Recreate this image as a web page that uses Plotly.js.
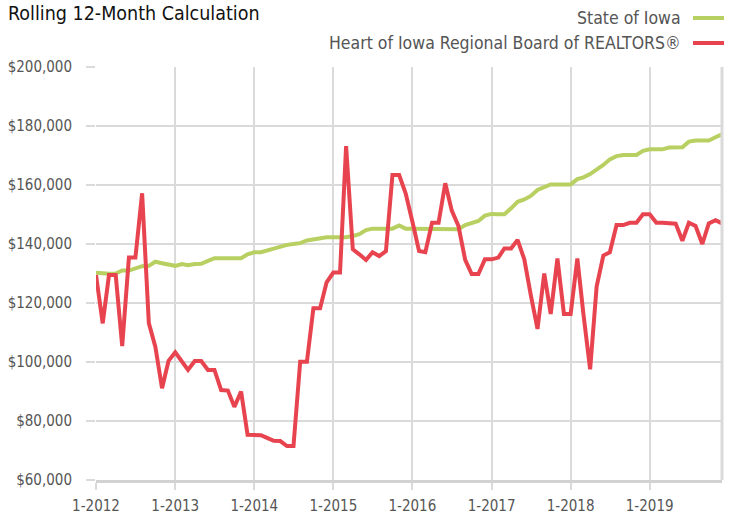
<!DOCTYPE html>
<html>
<head>
<meta charset="utf-8">
<script src="https://cdn.plot.ly/plotly-3.0.1.min.js"></script>
<style>html,body{margin:0;padding:0;background:#fff;}#chart{width:729px;height:515px;}</style>
</head>
<body>
<div id="chart"></div>
<script>
// Months Jan 2012 .. Dec 2019
const startYear = 2012, endYear = 2019;
const months = [];
for (let y = startYear; y <= endYear; y++) {
  for (let m = 1; m <= 12; m++) months.push(y + '-' + String(m).padStart(2, '0') + '-01');
}

const tickDates = ['2012-01-01','2013-01-01','2014-01-01','2015-01-01','2016-01-01','2017-01-01','2018-01-01','2019-01-01'];
const tickLabels = ['1-2012','1-2013','1-2014','1-2015','1-2016','1-2017','1-2018','1-2019'];

const seriesNames = ['State of Iowa', 'Heart of Iowa Regional Board of REALTORS®'];

const stateOfIowa = [
  130300,130000,129900,130000,131000,131000,131800,132500,132600,134000,133500,133100,
  132600,133200,132800,133200,133300,134300,135200,135200,135200,135200,135200,136500,
  137200,137200,137800,138300,139200,139700,140000,140300,141200,141600,142200,142300,
  142300,142300,142300,142700,143300,144700,145200,145200,145200,145200,146300,145200,
  145200,145200,145200,145200,145000,145000,145000,145000,146400,147000,147800,149600,
  150200,150100,150100,152100,154300,155100,156300,158300,159200,160200,160200,160200,
  160200,162000,162600,163700,165100,166800,168700,169800,170200,170200,170200,171600,
  172100,172100,172100,172700,172700,172800,174700,175100,175100,175100,176200,177200
];

const heartOfIowa = [
  129500,113100,129500,129500,105400,135400,135400,157200,113200,105200,91100,100400,
  103300,100300,97300,100300,100300,97300,97300,90500,90300,84800,90000,75300,
  75300,75200,74300,73300,73200,71500,71500,100100,100100,118200,118200,127000,
  130300,130300,173200,138200,136500,134600,137200,135900,137600,163400,163400,157200,
  147600,137600,137200,147200,147200,160600,151300,146100,134600,129800,129800,134800,
  134800,135400,138500,138500,141400,134800,122700,111200,130000,116300,135100,116300,
  116300,135100,116300,97500,125600,136100,137200,146400,146400,147200,147200,150100,
  150100,147200,147200,147200,146900,141100,147200,146100,140000,147000,148100,147000
];

const green = '#b7d061';
const red = '#e8444f';
const grid = '#dadada';
const font = '"DejaVu Sans Condensed", "Liberation Sans", sans-serif';

const traces = [
  {x: months, y: stateOfIowa, name: seriesNames[0], type: 'scatter', mode: 'lines',
   line: {color: green, width: 4}, hoverinfo: 'skip'},
  {x: months, y: heartOfIowa, name: seriesNames[1], type: 'scatter', mode: 'lines',
   line: {color: red, width: 4}, hoverinfo: 'skip'}
];

const layout = {
  width: 729, height: 515,
  margin: {l: 96, r: 7, t: 67, b: 35},
  paper_bgcolor: '#fff', plot_bgcolor: '#fff',
  showlegend: false,
  font: {family: font, color: '#555'},
  title: {text: 'Rolling 12-Month Calculation', xref: 'container', yref: 'container',
          x: 0.011, xanchor: 'left', y: 1 - 13/515, yanchor: 'middle',
          font: {family: font, size: 19.5, color: '#111'}},
  xaxis: {
    type: 'date', range: [months[0], months[months.length - 1]],
    tickvals: tickDates, ticktext: tickLabels,
    showgrid: true, gridcolor: grid, gridwidth: 2,
    ticks: 'outside', ticklen: 7, tickcolor: grid, tickwidth: 2,
    showline: true, linecolor: '#d2d2d2', linewidth: 3,
    ticklabelstandoff: 3,
    tickfont: {family: font, size: 15, color: '#555'},
    zeroline: false, fixedrange: true
  },
  yaxis: {
    range: [60000, 200000], dtick: 20000, tick0: 60000,
    tickprefix: '$', tickformat: ',d',
    showgrid: true, gridcolor: grid, gridwidth: 2,
    ticks: 'outside', ticklen: 9, tickcolor: grid, tickwidth: 2,
    showline: false, ticklabelstandoff: 11,
    tickfont: {family: font, size: 15, color: '#555'},
    zeroline: false, fixedrange: true
  },
  annotations: [
    {text: seriesNames[0], xref: 'paper', yref: 'paper', x: 0.9377, y: 1.1186,
     xanchor: 'right', yanchor: 'middle', showarrow: false,
     font: {family: font, size: 17.5, color: '#555'}},
    {text: seriesNames[1], xref: 'paper', yref: 'paper', x: 0.9377, y: 1.0581,
     xanchor: 'right', yanchor: 'middle', showarrow: false,
     font: {family: font, size: 17.5, color: '#555'}}
  ],
  shapes: [
    {type: 'line', xref: 'paper', yref: 'paper', x0: 1, x1: 1, y0: 0, y1: 1,
     line: {color: grid, width: 3}},
    {type: 'line', xref: 'paper', yref: 'paper', x0: 0.9537, x1: 1.0032, y0: 1.1186, y1: 1.1186,
     line: {color: green, width: 4}},
    {type: 'line', xref: 'paper', yref: 'paper', x0: 0.9537, x1: 1.0032, y0: 1.0581, y1: 1.0581,
     line: {color: red, width: 4}}
  ]
};

Plotly.newPlot('chart', traces, layout, {staticPlot: true, displayModeBar: false});
</script>
</body>
</html>
